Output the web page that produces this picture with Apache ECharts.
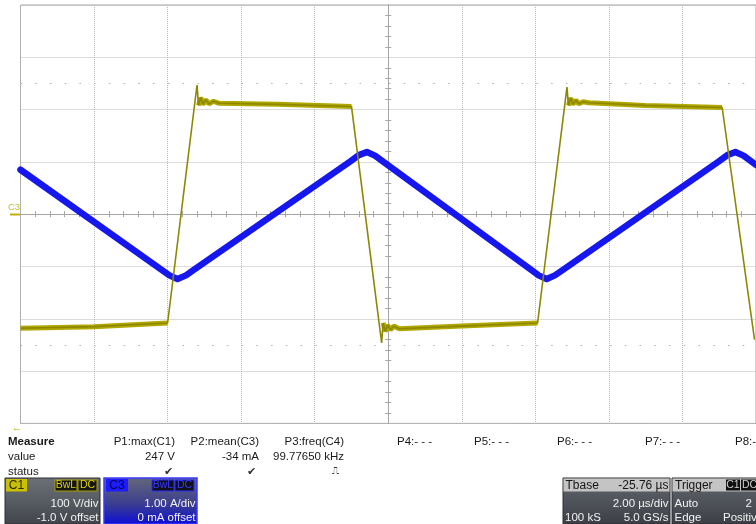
<!DOCTYPE html>
<html>
<head>
<meta charset="utf-8">
<script src="https://cdn.jsdelivr.net/npm/echarts@6/dist/echarts.min.js"></script>
<style>
html,body{margin:0;padding:0;background:#fff;}
#chart{width:756px;height:524px;}
</style>
</head>
<body>
<div id="chart"></div>
<script>
// ---- data (time in µs relative to screen centre) ----
var c1Time = [-10, -8, -6.0, -5.2, -5.16, -5.1, -5.04, -4.96, -4.88, -4.75, -4.6, -3, -1.0, -0.18, -0.14, -0.08, -0.02, 0.06, 0.15, 0.3, 2, 4.06, 4.86, 4.9, 4.96, 5.02, 5.1, 5.18, 5.3, 5.45, 7, 9.08, 9.96];
var c1Volts = [-218, -215, -208, 247, 208, 223, 210, 219, 211, 216, 212, 210, 206, -246, -208, -224, -212, -221, -214, -219, -214, -208, 243, 208, 222, 210, 218, 211, 215, 213, 208, 204, -240];

var c3Time = [-10, -6.18, -5.95, -5.73, -5.5, -5.28, -1.03, -0.8, -0.58, -0.36, -0.13, 3.86, 4.09, 4.31, 4.53, 4.76, 8.99, 9.22, 9.44, 9.66, 9.89, 10];
var c3Amps = [0.85, -1.055, -1.17, -1.24, -1.17, -1.06, 1.01, 1.13, 1.19, 1.12, 1.0, -1.05, -1.17, -1.24, -1.17, -1.06, 1.01, 1.13, 1.19, 1.12, 1.0, 0.94];

var refLevels = [250, -250];

var measHeaders = ['P1:max(C1)', 'P2:mean(C3)', 'P3:freq(C4)'];
var measValues = ['247 V', '-34 mA', '99.77650 kHz'];
var measStatus = ['\u2714', '\u2714', '\u238D'];
var emptyParams = ['P4:- - -', 'P5:- - -', 'P6:- - -', 'P7:- - -', 'P8:- - -'];

// ---- build ----
var c1Data = c1Time.map(function (t, i) { return [t, c1Volts[i]]; });
var c1Band = c1Time.map(function (t, i) { return Math.abs(c1Volts[i]) <= 226 ? [t, c1Volts[i]] : [t, '-']; });
var c3Data = c3Time.map(function (t, i) { return [t, c3Amps[i]]; });

var FONT = '"Liberation Sans", Arial, sans-serif';
var gridCol = '#b9b9b9';
var axisCol = '#a6a6a6';

function txt(x, y, s, opt) {
  opt = opt || {};
  return {
    type: 'text', x: x, y: y, z: 20,
    style: {
      text: s, fill: opt.fill || '#1a1a1a',
      font: (opt.bold ? 'bold ' : '') + (opt.size || 11.5) + 'px ' + (opt.font || FONT),
      align: opt.align || 'left', verticalAlign: 'middle'
    }
  };
}
function box(x, y, w, h, fill, stroke, lw) {
  return { type: 'rect', z: 15, shape: { x: x, y: y, width: w, height: h },
    style: { fill: fill, stroke: stroke || null, lineWidth: lw || 1 } };
}
function grad(c0, c1, c2) {
  return new echarts.graphic.LinearGradient(0, 0, 0, 1, [
    { offset: 0, color: c0 }, { offset: 0.55, color: c1 }, { offset: 1, color: c2 }]);
}

var graphics = [];
// measure table
var hx = [175, 259, 344];
graphics.push(txt(8, 441.5, 'Measure', { bold: true }));
graphics.push(txt(8, 456.5, 'value'));
graphics.push(txt(8, 471.5, 'status'));
measHeaders.forEach(function (h, i) {
  graphics.push(txt(hx[i], 441.5, h, { align: 'right' }));
  graphics.push(txt(hx[i], 456.5, measValues[i], { align: 'right' }));
});
graphics.push(txt(168, 471.5, measStatus[0], { align: 'center', size: 11, fill: '#333' }));
graphics.push(txt(251, 471.5, measStatus[1], { align: 'center', size: 11, fill: '#333' }));
graphics.push(txt(335, 471.5, measStatus[2], { align: 'center', size: 10, fill: '#333', font: '"DejaVu Sans", sans-serif' }));
var px = [397, 474, 557, 645, 735];
emptyParams.forEach(function (p, i) { graphics.push(txt(px[i], 442, p)); });

// arrow and C3 marker
graphics.push(txt(17, 428, '\u2190', { fill: '#bcb200', size: 11, align: 'center' }));
graphics.push(txt(14, 207.5, 'C3', { fill: '#c4bc30', size: 9.5, align: 'center' }));
graphics.push(box(10, 213.5, 10, 2, '#bcb200'));

// C1 panel
graphics.push(box(5, 478, 95, 46, grad('#6c7077', '#555960', '#41444a'), '#2c2e33', 1));
graphics.push(box(6, 479, 21, 12.5, '#c9c100'));
graphics.push(txt(16.5, 485.5, 'C1', { fill: '#2a2800', size: 12, align: 'center' }));
graphics.push(box(55, 480, 22, 11, '#141414', '#a8a000'));
graphics.push(txt(66, 485.5, 'BwL', { fill: '#d8d000', size: 10.5, align: 'center' }));
graphics.push(box(78, 480, 19, 11, '#141414', '#a8a000'));
graphics.push(txt(87.5, 485.5, 'DC', { fill: '#d8d000', size: 10.5, align: 'center' }));
graphics.push(txt(98.5, 504, '100 V/div', { fill: '#f2f2f2', size: 11.5, align: 'right' }));
graphics.push(txt(98.5, 517.5, '-1.0 V offset', { fill: '#f2f2f2', size: 11.5, align: 'right' }));

// C3 panel
graphics.push(box(104, 478, 93, 46, grad('#64687a', '#3c3f8e', '#0c0cd8'), '#3a3aff', 1.5));
graphics.push(box(106, 479, 22, 12.5, '#1c1cff'));
graphics.push(txt(117, 485.5, 'C3', { fill: '#00005a', size: 12, align: 'center' }));
graphics.push(box(152, 480, 22, 11, '#101018', '#2a2aff'));
graphics.push(txt(163, 485.5, 'BwL', { fill: '#3a3aff', size: 10.5, align: 'center' }));
graphics.push(box(175, 480, 19, 11, '#101018', '#2a2aff'));
graphics.push(txt(184.5, 485.5, 'DC', { fill: '#3a3aff', size: 10.5, align: 'center' }));
graphics.push(txt(195.5, 504, '1.00 A/div', { fill: '#f2f2f2', size: 11.5, align: 'right' }));
graphics.push(txt(195.5, 517.5, '0 mA offset', { fill: '#f2f2f2', size: 11.5, align: 'right' }));

// Tbase panel
graphics.push(box(563, 478, 107, 46, grad('#62666d', '#4e5258', '#3b3e44'), '#2c2e33', 1));
graphics.push(box(563.5, 478.5, 106, 13, '#c4c4c4'));
graphics.push(txt(565.5, 485.5, 'Tbase', { fill: '#151515', size: 12 }));
graphics.push(txt(668.5, 485.5, '-25.76 \u00B5s', { fill: '#151515', size: 12, align: 'right' }));
graphics.push(txt(668.5, 504, '2.00 \u00B5s/div', { fill: '#f2f2f2', size: 11.5, align: 'right' }));
graphics.push(txt(565, 518, '100 kS', { fill: '#f2f2f2', size: 11.5 }));
graphics.push(txt(668.5, 518, '5.0 GS/s', { fill: '#f2f2f2', size: 11.5, align: 'right' }));

// Trigger panel
graphics.push(box(672, 478, 90, 46, grad('#62666d', '#4e5258', '#3b3e44'), '#2c2e33', 1));
graphics.push(box(672.5, 478.5, 89, 13, '#c4c4c4'));
graphics.push(txt(675, 485.5, 'Trigger', { fill: '#151515', size: 12 }));
graphics.push(box(726, 479.5, 14, 11, '#0e0e0e'));
graphics.push(txt(733, 485.5, 'C1', { fill: '#d0d0d0', size: 10.5, align: 'center' }));
graphics.push(box(741, 479.5, 18, 11, '#0e0e0e'));
graphics.push(txt(742, 485.5, 'DC', { fill: '#d0d0d0', size: 10.5 }));
graphics.push(txt(674.5, 504, 'Auto', { fill: '#f2f2f2', size: 11.5 }));
graphics.push(txt(752, 504, '2', { fill: '#f2f2f2', size: 11.5, align: 'right' }));
graphics.push(txt(674.5, 518, 'Edge', { fill: '#f2f2f2', size: 11.5 }));
graphics.push(txt(723, 518, 'Positive', { fill: '#f2f2f2', size: 11.5 }));

function xAx(extra) {
  return Object.assign({
    type: 'value', min: -10, max: 10, interval: 2, gridIndex: 0,
    axisLabel: { show: false },
    axisLine: { show: true, onZero: true, onZeroAxisIndex: 0, lineStyle: { color: axisCol, width: 1 } },
    axisTick: { show: false, inside: false },
    minorTick: { show: true, splitNumber: 5, length: 3, lineStyle: { color: axisCol, width: 1 } },
    splitLine: { show: false }
  }, extra || {});
}
function yAx(extra) {
  return Object.assign({
    type: 'value', min: -400, max: 400, interval: 100, gridIndex: 0,
    axisLabel: { show: false },
    axisLine: { show: true, onZero: true, onZeroAxisIndex: 0, lineStyle: { color: axisCol, width: 1 } },
    axisTick: { show: false, inside: false },
    minorTick: { show: true, splitNumber: 5, length: 3, lineStyle: { color: axisCol, width: 1 } },
    splitLine: { show: false }
  }, extra || {});
}

var chart = echarts.init(document.getElementById('chart'), null, { renderer: 'canvas' });
chart.setOption({
  animation: false,
  backgroundColor: '#ffffff',
  grid: { left: 20.5, top: 5, width: 737, height: 418.4, show: true,
    borderColor: '#a4a4a4', borderWidth: 1, backgroundColor: 'transparent' },
  xAxis: [
    xAx({ position: 'bottom', splitLine: { show: true, lineStyle: { type: [1, 1], color: gridCol, width: 1 } } }),
    xAx({ position: 'top' })
  ],
  yAxis: [
    yAx({ position: 'left', splitLine: { show: true, lineStyle: { type: [1, 1], color: gridCol, width: 1 } } }),
    yAx({ position: 'right' }),
    { type: 'value', min: -4, max: 4, interval: 1, show: false, gridIndex: 0 }
  ],
  graphic: graphics,
  series: [
    {
      name: 'C3', type: 'line', xAxisIndex: 0, yAxisIndex: 2, data: c3Data,
      showSymbol: false, symbol: 'none', z: 3,
      lineStyle: { color: '#1616ee', width: 6.5, cap: 'round', join: 'round' },
      itemStyle: { color: '#1616ee' }
    },
    {
      name: 'C1 band', type: 'line', xAxisIndex: 0, yAxisIndex: 0, data: c1Band,
      showSymbol: false, symbol: 'none', connectNulls: false, z: 4,
      lineStyle: { color: '#b0a800', width: 5 },
      itemStyle: { color: '#b0a800' }
    },
    {
      name: 'C1', type: 'line', xAxisIndex: 0, yAxisIndex: 0, data: c1Data,
      showSymbol: false, symbol: 'none', z: 5,
      lineStyle: { color: '#8d8800', width: 1.6 },
      itemStyle: { color: '#8d8800' },
      markLine: {
        silent: true, symbol: 'none', label: { show: false },
        lineStyle: { color: '#b0b0b0', type: [1.5, 13.24], width: 1 },
        data: refLevels.map(function (v) { return { yAxis: v }; })
      }
    }
  ]
});
</script>
</body>
</html>
